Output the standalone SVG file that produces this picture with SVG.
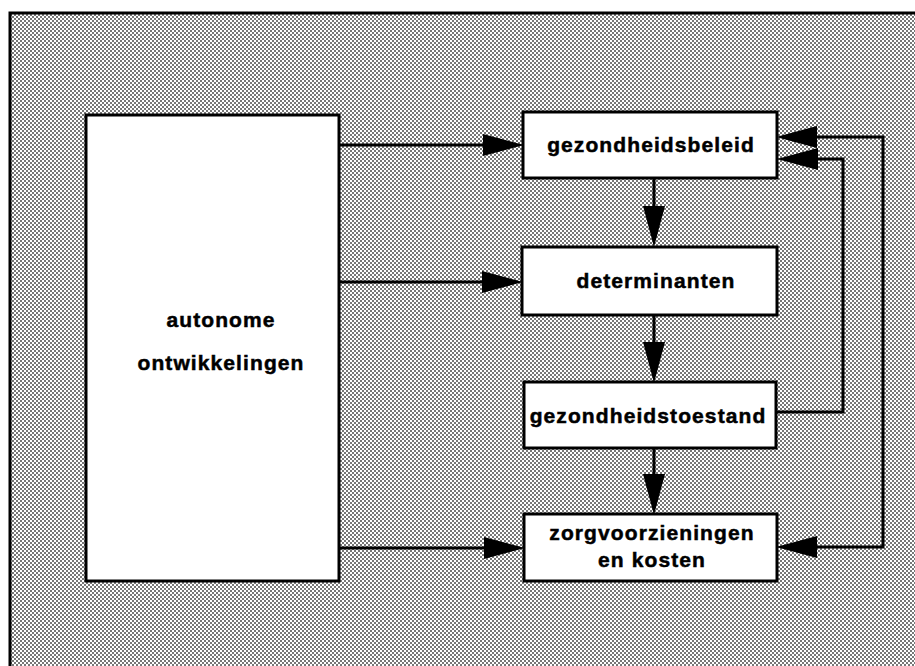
<svg xmlns="http://www.w3.org/2000/svg" width="915" height="666" viewBox="0 0 915 666">
  <defs>
    <pattern id="dots" width="4" height="4" patternUnits="userSpaceOnUse">
      <rect width="4" height="4" fill="#ffffff"/>
      <rect x="0" y="0" width="2" height="2" fill="#777777"/>
      <rect x="2" y="2" width="2" height="2" fill="#777777"/>
    </pattern>
    <marker id="arrow" markerUnits="userSpaceOnUse" markerWidth="42" markerHeight="24" viewBox="0 0 42 24" refX="20" refY="12" orient="auto-start-reverse">
      <path d="M0,1 L41,12 L0,23 Z" fill="#000"/>
    </marker>
  </defs>
  <style>
    .box { fill: #ffffff; stroke: #000; stroke-width: 3; }
    .lbl { font-family: "Liberation Sans", Arial, sans-serif; font-weight: bold; font-size: 21px; letter-spacing: 1.1px; fill: #000; stroke: #000; stroke-width: 0.5; text-anchor: middle; }
    .conn { fill: none; stroke: #000; stroke-width: 3; marker-end: url(#arrow); }
    .both { marker-start: url(#arrow); }
  </style>
  <rect width="915" height="666" fill="#ffffff"/>
  <rect id="frame" x="10" y="13" width="920" height="680" fill="url(#dots)" stroke="#000" stroke-width="3"/>

  <g id="autonome">
    <rect class="box" x="86" y="115" width="253" height="466"/>
    <text class="lbl" x="221" y="327">autonome</text>
    <text class="lbl" x="221" y="370">ontwikkelingen</text>
  </g>
  <g id="gezondheidsbeleid">
    <rect class="box" x="523" y="112" width="254" height="66"/>
    <text class="lbl" x="651" y="152">gezondheidsbeleid</text>
  </g>
  <g id="determinanten">
    <rect class="box" x="522" y="247" width="255" height="68"/>
    <text class="lbl" x="656" y="288">determinanten</text>
  </g>
  <g id="gezondheidstoestand">
    <rect class="box" x="524" y="382" width="252" height="66"/>
    <text class="lbl" x="648" y="423">gezondheidstoestand</text>
  </g>
  <g id="zorgvoorzieningen">
    <rect class="box" x="524" y="514" width="253" height="67"/>
    <text class="lbl" x="652" y="540">zorgvoorzieningen</text>
    <text class="lbl" x="652" y="567">en kosten</text>
  </g>

  <g id="connectors">
    <path class="conn" d="M339,145 L503,145"/>
    <path class="conn" d="M339,282 L502,282"/>
    <path class="conn" d="M339,548 L504,548"/>
    <path class="conn" d="M654,178 L654,226"/>
    <path class="conn" d="M654,315 L654,362"/>
    <path class="conn" d="M654,448 L654,494"/>
    <path class="conn" d="M776,412 L843,412 L843,159 L798,159"/>
    <path class="conn both" d="M797,137 L883,137 L883,547 L797,547"/>
  </g>
</svg>
